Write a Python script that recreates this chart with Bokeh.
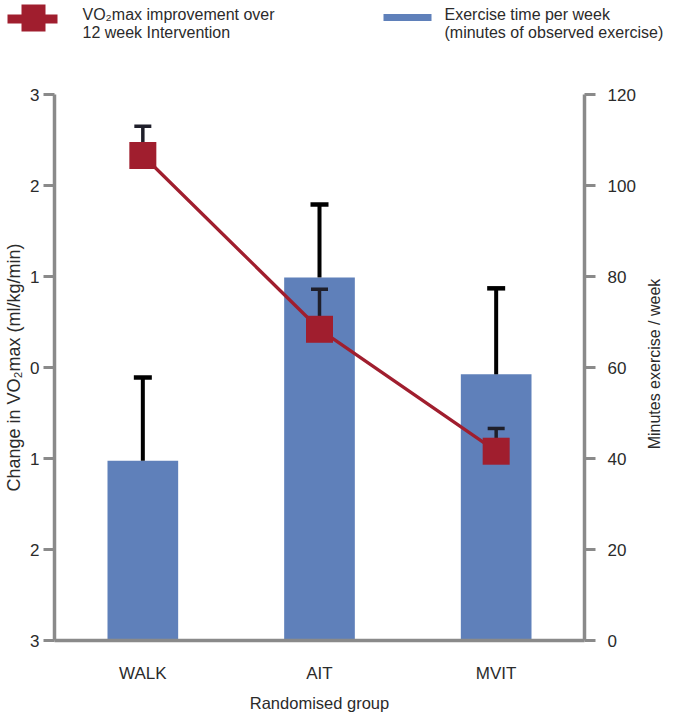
import math
from bokeh.plotting import figure
from bokeh.models import (FactorRange, Range1d, LinearAxis, FixedTicker, ColumnDataSource)
from bokeh.layouts import row
from bokeh.core.properties import value
from bokeh.embed import file_html
from bokeh.resources import INLINE

# ---------------- data ----------------
groups = ["WALK", "AIT", "MVIT"]
minutes = [39.5, 79.8, 58.5]            # exercise time per week (right axis)
minutes_err = [18.3, 16.0, 18.9]        # upper error of exercise time
vo2_change = [2.33, 0.42, -0.92]        # change in VO2max (left axis)
vo2_err = [0.32, 0.44, 0.25]            # upper error of VO2max change
left_ticks = [-3, -2, -1, 0, 1, 2, 3]
left_tick_labels = ["3", "2", "1", "0", "1", "2", "3"]
right_ticks = [0, 20, 40, 60, 80, 100, 120]
legend_line1 = ["VO\u2082max improvement over", "Exercise time per week"]
legend_line2 = ["12 week Intervention", "(minutes of observed exercise)"]
right_title = ["Minutes exercise / week"]

FONT = "Liberation Sans"
TXT = "#2b2b2b"
AX = "#8a8a8a"
BAR = "#5f80ba"
RED = "#a01e2e"

# ---------------- legend strip (page-pixel coordinates) ----------------
leg = figure(width=676, height=85, x_range=Range1d(0, 676), y_range=Range1d(85, 0),
             x_axis_type=None, y_axis_type=None, min_border=0, title=None,
             output_backend="svg", toolbar_location=None)
leg.grid.visible = False
leg.outline_line_color = None
leg.segment(x0=[7], y0=[18.5], x1=[57], y1=[18.5], line_color=RED, line_width=9)
leg.rect(x=[33], y=[17.5], width=[24], height=[27], fill_color=RED, line_color=None)
leg.rect(x=[407], y=[17], width=[48], height=[7], fill_color=BAR, line_color=None)
leg.text(x=[82, 444], y=[13.5, 13.5], text=legend_line1, text_font=value(FONT),
         text_font_size="16px", text_color=TXT, text_baseline="middle")
leg.text(x=[82, 444], y=[32, 32], text=legend_line2, text_font=value(FONT),
         text_font_size="16px", text_color=TXT, text_baseline="middle")

# ---------------- main chart ----------------
p = figure(x_range=FactorRange(*groups), y_range=Range1d(-3, 3),
           frame_width=530, frame_height=546,
           min_border_left=54, min_border_right=56, min_border_top=9, min_border_bottom=67,
           output_backend="svg", toolbar_location=None, title=None)
p.extra_y_ranges = {"min": Range1d(0, 120)}
p.grid.visible = False
p.outline_line_color = None

src = ColumnDataSource(dict(
    g=groups, m=minutes, mtop=[a + b for a, b in zip(minutes, minutes_err)],
    v=vo2_change, vtop=[a + b for a, b in zip(vo2_change, vo2_err)]))

# bars on right axis
p.vbar(x="g", top="m", bottom=0, width=0.4, source=src, y_range_name="min",
       fill_color=BAR, line_color=None)
# bar error bars
p.segment(x0="g", y0="m", x1="g", y1="mtop", source=src, y_range_name="min",
          line_color="black", line_width=4)
p.scatter(x="g", y="mtop", source=src, y_range_name="min", marker="dash",
          size=18, line_color="black", line_width=4.5)

# VO2max error bars
p.segment(x0="g", y0="v", x1="g", y1="vtop", source=src,
          line_color="#1f1f2a", line_width=3.5)
p.scatter(x="g", y="vtop", source=src, marker="dash",
          size=17, line_color="#1f1f2a", line_width=3.5)
# VO2max line + markers
p.line(x="g", y="v", source=src, line_color=RED, line_width=3.3)
p.scatter(x="g", y="v", source=src, marker="square", size=27,
          fill_color=RED, line_color=None)

# left axis
ya = p.yaxis[0]
ya.ticker = FixedTicker(ticks=left_ticks)
ya.major_label_overrides = {t: s for t, s in zip(left_ticks, left_tick_labels)}
ya.axis_label = "Change in VO\u2082max (ml/kg/min)"
ya.major_label_standoff = 4
ya.axis_label_standoff = 3

# right axis (ticks + labels)
ra = LinearAxis(y_range_name="min", ticker=FixedTicker(ticks=right_ticks))
p.add_layout(ra, "right")
ra.major_label_standoff = 12

for ax in [ya, ra]:
    ax.major_tick_out = 11
    ax.major_tick_in = 0
    ax.minor_tick_line_color = None
    ax.major_tick_line_color = AX
    ax.major_tick_line_width = 3
    ax.axis_line_color = AX
    ax.axis_line_width = 3.5

xa = p.xaxis[0]
xa.major_tick_line_color = None
xa.minor_tick_line_color = None
xa.major_tick_out = 0
xa.major_tick_in = 0
xa.major_label_standoff = 23
xa.axis_label = "Randomised group"
xa.axis_label_standoff = 8
xa.axis_line_color = AX
xa.axis_line_width = 3.5

for ax in [ya, ra, xa]:
    ax.major_label_text_font = FONT
    ax.major_label_text_font_size = "17px"
    ax.major_label_text_color = TXT
    ax.axis_label_text_font = FONT
    ax.axis_label_text_font_size = "16.5px"
    ax.axis_label_text_font_style = "normal"
    ax.axis_label_text_color = TXT
ya.axis_label_text_font_size = "18px"

# ---------------- right-hand title strip (reads bottom-to-top, centred on the scale) ----------------
tfig = figure(width=36, height=622, x_range=Range1d(0, 36), y_range=Range1d(-3, 3),
              x_axis_type=None, y_axis_type=None, title=None,
              min_border_left=0, min_border_right=0, min_border_top=9, min_border_bottom=67,
              output_backend="svg", toolbar_location=None)
tfig.grid.visible = False
tfig.outline_line_color = None
tfig.text(x=[14], y=[0], text=right_title, angle=math.pi / 2, text_font=value(FONT),
          text_font_size="16px", text_color=TXT, text_align="center", text_baseline="middle")

open("out.html", "w").write(file_html([leg, row(p, tfig)], INLINE))
